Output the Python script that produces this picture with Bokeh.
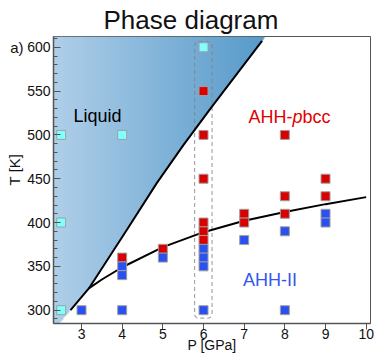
import numpy as np
from bokeh.plotting import figure
from bokeh.models import Label, FixedTicker, Range1d, LinearAxis
from bokeh.embed import file_html
from bokeh.resources import INLINE

# ---- data ----
liquid_P = [2.5, 4, 2.5, 2.5, 6]
liquid_T = [500, 500, 400, 300, 600]
pbcc_P = [6, 6, 6, 8, 6, 6, 6, 4, 5, 7, 7, 8, 8, 9, 9]
pbcc_T = [550, 500, 450, 500, 400, 390, 380, 360, 370, 410, 400, 430, 410, 450, 430]
ii_P = [3, 4, 4, 4, 5, 6, 6, 6, 6, 7, 8, 8, 9, 9]
ii_T = [300, 300, 350, 340, 360, 370, 360, 350, 300, 380, 390, 300, 410, 400]

melt_P = [2.73, 3.18, 4.12, 4.85, 5.5, 6.17, 7.44]
melt_T = [300, 324.8, 392, 445, 488, 530, 607.2]
trans_P = [3.18, 3.5, 4.0, 5.0, 6.0, 7.0, 8.0, 9.0, 10.0]
trans_T = [324.8, 335, 349, 372, 389, 402, 412, 421, 429]

box_P = [5.78, 6.21]
box_T = [290.9, 606.4]

x_ticks = [3, 4, 5, 6, 7, 8, 9, 10]
y_ticks = [300, 350, 400, 450, 500, 550, 600]
y_minor = list(range(290, 620, 10))
panel_tag_tick = [600]

X0, X1 = 2.311, 10.106
Y0, Y1 = 284.8, 612.3

FONT = "Liberation Sans"

p = figure(width=374, height=355, x_range=Range1d(X0, X1), y_range=Range1d(Y0, Y1),
           output_backend="svg", toolbar_location=None,
           min_border_left=53, min_border_right=4, min_border_top=36, min_border_bottom=32)
p.grid.visible = False
p.outline_line_color = "#555555"
p.outline_line_width = 1
p.background_fill_color = "white"
p.border_fill_color = "white"

# ---- title ----
p.title.text = "Phase diagram"
p.title.text_font = FONT
p.title.text_font_size = "26px"
p.title.text_font_style = "normal"
p.title.text_color = "#111111"
p.title.align = "left"
p.title.offset = 50
p.title.standoff = 4

# ---- gradient-filled liquid region ----
gx1 = 7.9
nx, ny = 500, 600
xs = np.linspace(X0, gx1, nx)
ys = np.linspace(Y0, Y1, ny)
lo_slope = (melt_P[1] - melt_P[0]) / (melt_T[1] - melt_T[0])
hi_slope = (melt_P[-1] - melt_P[-2]) / (melt_T[-1] - melt_T[-2])
Tb = [Y0] + melt_T + [Y1]
Pb = ([melt_P[0] - lo_slope * (melt_T[0] - Y0)] + melt_P
      + [melt_P[-1] + hi_slope * (Y1 - melt_T[-1])])
bound = np.interp(ys, Tb, Pb)
dx = xs[1] - xs[0]
cover = np.clip((bound[:, None] - xs[None, :]) / dx + 0.5, 0, 1)
frac = np.clip((xs - X0) / (Pb[-1] - X0), 0, 1)
c0 = np.array([176, 207, 233])
c1 = np.array([86, 154, 202])
img = np.zeros((ny, nx), dtype=np.uint32)
view = img.view(dtype=np.uint8).reshape((ny, nx, 4))
for k in range(3):
    view[:, :, k] = (c0[k] + (c1[k] - c0[k]) * frac)[None, :].astype(np.uint8)
view[:, :, 3] = (cover * 255).astype(np.uint8)
p.image_rgba(image=[img], x=X0, y=Y0, dw=gx1 - X0, dh=Y1 - Y0)

# ---- dashed box at 6 GPa ----
p.quad(left=[box_P[0]], right=[box_P[1]], bottom=[box_T[0]], top=[box_T[1]],
       fill_alpha=0, line_color="#808080", line_alpha=0.7, line_dash="4 3",
       line_width=1.2, border_radius=4)

# ---- boundary lines ----
p.line(melt_P, melt_T, line_color="black", line_width=2)
p.line(trans_P, trans_T, line_color="black", line_width=2)

# ---- points ----
mk = dict(size=9, line_color="#a0a0a0", line_width=1)
p.scatter(liquid_P, liquid_T, marker="square", fill_color="#80ffff", **mk)
p.scatter(pbcc_P, pbcc_T, marker="square", fill_color="#d80000", **mk)
p.scatter(ii_P, ii_T, marker="square", fill_color="#2a50f0", **mk)

# ---- axes ----
p.xaxis.ticker = FixedTicker(ticks=x_ticks)
p.yaxis.ticker = FixedTicker(ticks=y_ticks, minor_ticks=y_minor)
for ax in (p.xaxis[0], p.yaxis[0]):
    ax.axis_line_color = "#555555"
    ax.axis_line_width = 1.5
    ax.major_tick_line_color = "#555555"
    ax.minor_tick_line_color = "#555555"
    ax.major_label_text_font = FONT
    ax.major_label_text_font_size = "14px"
    ax.major_label_text_color = "#111111"
    ax.axis_label_text_font = FONT
    ax.axis_label_text_font_size = "14px"
    ax.axis_label_text_font_style = "normal"
    ax.axis_label_text_color = "#111111"
p.xaxis.axis_label = "P [GPa]"
p.xaxis.major_tick_in = 0
p.xaxis.major_tick_out = 6
p.xaxis.minor_tick_in = 0
p.xaxis.minor_tick_out = 0
p.xaxis.major_label_standoff = -1
p.xaxis.axis_label_standoff = -5
p.yaxis.major_tick_in = 7
p.yaxis.major_tick_out = 0
p.yaxis.minor_tick_in = 4
p.yaxis.minor_tick_out = 0
p.yaxis.major_label_standoff = 3

# outer left axis: carries the "a)" tag and the T [K] title
outer = LinearAxis(ticker=FixedTicker(ticks=panel_tag_tick, minor_ticks=[]),
                   major_label_overrides={panel_tag_tick[0]: "a)"},
                   axis_label="\u00a0" * 5 + "T [K]",
                   axis_line_color=None, major_tick_line_color=None,
                   minor_tick_line_color=None,
                   major_tick_in=0, major_tick_out=0, minor_tick_in=0, minor_tick_out=0,
                   major_label_standoff=1, axis_label_standoff=-16,
                   major_label_text_font=FONT, major_label_text_font_size="15px",
                   major_label_text_color="#111111",
                   axis_label_text_font=FONT, axis_label_text_font_size="15px",
                   axis_label_text_font_style="normal", axis_label_text_color="#111111")
p.add_layout(outer, "left")

# ---- texts ----
def lab(text, x, y, size, color="black", xo=0, align="left", style="normal"):
    p.add_layout(Label(x=x, y=y, text=text, x_offset=xo,
                       text_font=FONT, text_font_size=size, text_color=color,
                       text_align=align, text_baseline="middle", text_font_style=style))

lab("Liquid", 2.80, 522, "18px")
lab("AHH-", 7.106, 520, "18px", color="#e00000")
lab("p", 7.106, 520, "18px", color="#e00000", xo=44, style="italic")
lab("bcc", 7.106, 520, "18px", color="#e00000", xo=54)
lab("AHH-II", 6.97, 334, "18px", color="#3355ee")

open("out.html", "w").write(file_html(p, INLINE))
